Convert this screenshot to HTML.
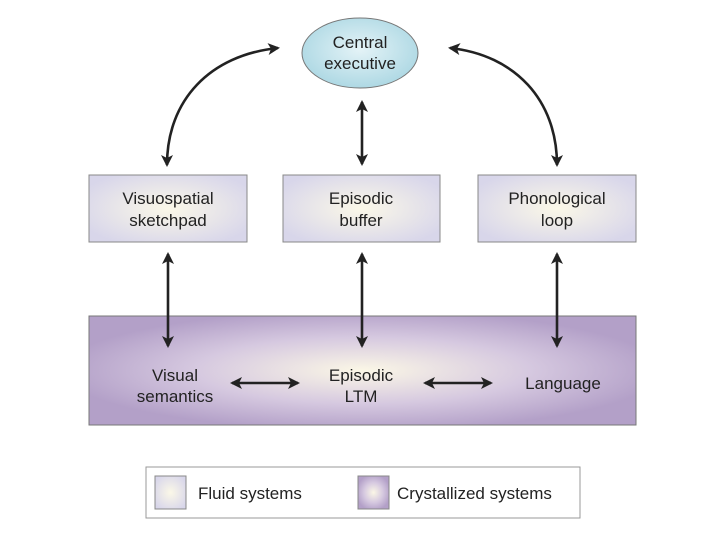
<!DOCTYPE html>
<html><head><style>
body{margin:0;background:#fff;width:720px;height:540px;overflow:hidden;font-family:"Liberation Sans",sans-serif;}
</style></head><body>
<svg width="720" height="540" xmlns="http://www.w3.org/2000/svg" font-family="Liberation Sans, sans-serif">
<defs>
<radialGradient id="fl" cx="50%" cy="50%" r="60%"><stop offset="0" stop-color="#fbf8e8"/><stop offset="1" stop-color="#d8d6ea"/></radialGradient>
<radialGradient id="cr" cx="50%" cy="50%" r="55%"><stop offset="0" stop-color="#fbf7e6"/><stop offset="0.55" stop-color="#d6c9e0"/><stop offset="1" stop-color="#b3a0c8"/></radialGradient>
<radialGradient id="el" cx="50%" cy="45%" r="60%"><stop offset="0" stop-color="#e4f3f7"/><stop offset="1" stop-color="#a9d6e2"/></radialGradient>
<marker id="a" markerWidth="12" markerHeight="12" refX="10" refY="6" orient="auto-start-reverse" markerUnits="userSpaceOnUse"><path d="M0,0 L12,6 L0,12 L3,6 Z" fill="#222"/></marker>
</defs>
<ellipse cx="360" cy="53" rx="58" ry="35" fill="url(#el)" stroke="#777" stroke-width="1"/>
<text x="360" y="48" text-anchor="middle" font-size="17" fill="#222">Central</text>
<text x="360" y="69" text-anchor="middle" font-size="17" fill="#222">executive</text>
<g stroke="#222" stroke-width="2.6" fill="none" marker-start="url(#a)" marker-end="url(#a)">
<path d="M167,165 C167,100 210,55 278,48"/>
<path d="M557,165 C557,100 515,55 450,48"/>
<line x1="362" y1="102" x2="362" y2="164"/>
</g>
<rect x="89" y="175" width="158" height="67" fill="url(#fl)" stroke="#888"/>
<rect x="283" y="175" width="157" height="67" fill="url(#fl)" stroke="#888"/>
<rect x="478" y="175" width="158" height="67" fill="url(#fl)" stroke="#888"/>
<g font-size="17" fill="#222" text-anchor="middle">
<text x="168" y="204">Visuospatial</text><text x="168" y="226">sketchpad</text>
<text x="361" y="204">Episodic</text><text x="361" y="226">buffer</text>
<text x="557" y="204">Phonological</text><text x="557" y="226">loop</text>
</g>
<rect x="89" y="316" width="547" height="109" fill="url(#cr)" stroke="#777"/>
<g stroke="#222" stroke-width="2.6" fill="none" marker-start="url(#a)" marker-end="url(#a)">
<line x1="168" y1="254" x2="168" y2="346"/>
<line x1="362" y1="254" x2="362" y2="346"/>
<line x1="557" y1="254" x2="557" y2="346"/>
<line x1="232" y1="383" x2="298" y2="383"/>
<line x1="425" y1="383" x2="491" y2="383"/>
</g>
<g font-size="17" fill="#222" text-anchor="middle">
<text x="175" y="381">Visual</text><text x="175" y="402">semantics</text>
<text x="361" y="381">Episodic</text><text x="361" y="402">LTM</text>
<text x="563" y="389">Language</text>
</g>
<rect x="146" y="467" width="434" height="51" fill="#fff" stroke="#999"/>
<rect x="155" y="476" width="31" height="33" fill="url(#fl)" stroke="#888"/>
<rect x="358" y="476" width="31" height="33" fill="url(#cr)" stroke="#888"/>
<text x="198" y="499" font-size="17" fill="#222">Fluid systems</text>
<text x="397" y="499" font-size="17" fill="#222">Crystallized systems</text>
</svg>
</body></html>
